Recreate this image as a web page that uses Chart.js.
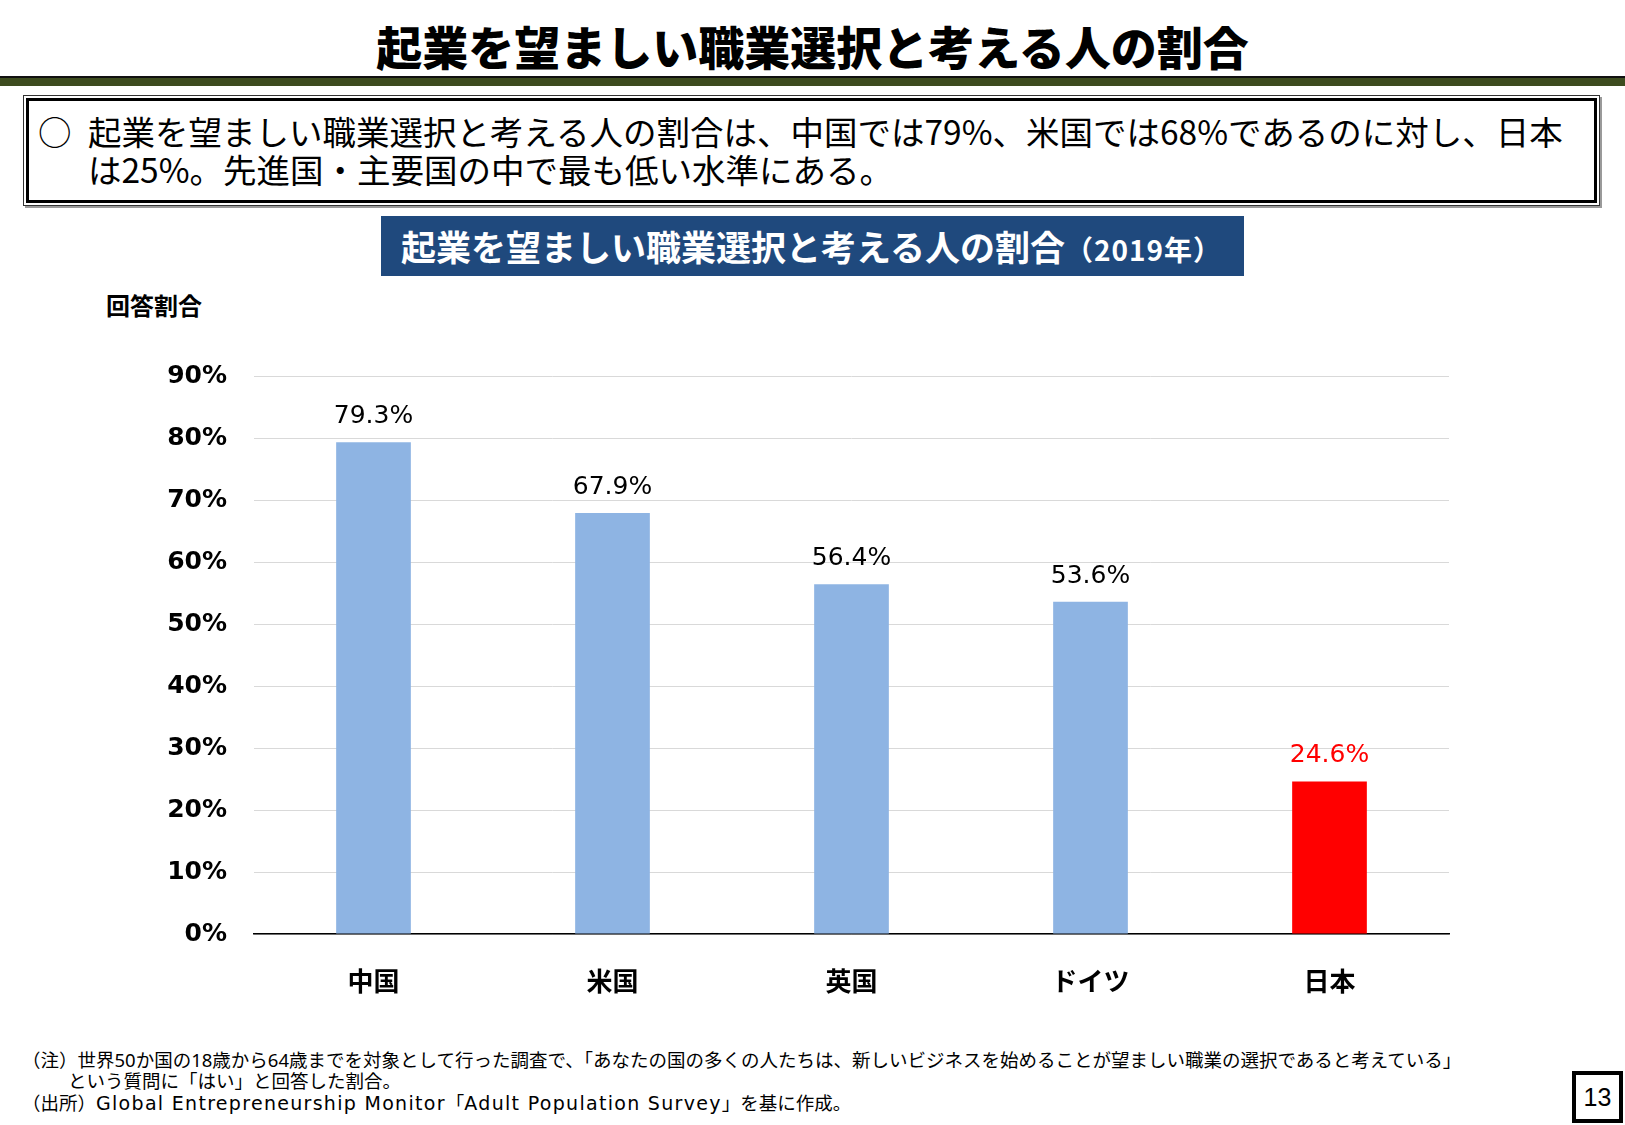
<!DOCTYPE html>
<html lang="ja">
<head>
<meta charset="utf-8">
<script src="https://cdn.jsdelivr.net/npm/chart.js@4.4.1/dist/chart.umd.min.js"></script>
<style>
  html, body { margin: 0; padding: 0; background: #fff; }
  body { width: 1625px; height: 1125px; position: relative; overflow: hidden;
         font-family: "Noto Sans CJK JP", "Noto Sans", sans-serif; color: #000; }
  .abs { position: absolute; white-space: nowrap; }
  #title { left: 0; top: 15px; width: 1625px; height: 60px; line-height: 60px; text-align: center;
           font-size: 46px; font-weight: 900; }
  #band { left: 0; top: 76px; width: 1625px; height: 8px; background: #3d4c1f; border-top: 2px solid #111; }
  #box { left: 23px; top: 95px; width: 1575px; height: 109px; border: 1px solid #333;
         box-shadow: 2px 2px 0 #9a9a9a; }
  #boxin { position: absolute; left: 2px; top: 2px; right: 2px; bottom: 2px; border: 3px solid #000; }
  .bt { font-size: 33.5px; height: 38px; line-height: 38px; }
  #ctitle { left: 381px; top: 216px; width: 863px; height: 60px; background: #1f497d; color: #fff;
            line-height: 60px; font-weight: 700; font-size: 35px; }
  #ctitle span.y { font-size: 28px; letter-spacing: 1px; }
  #ylab { left: 106px; top: 290px; font-size: 24px; font-weight: 700; line-height: 30px; }
  .fn { font-size: 18.5px; line-height: 22px; height: 22px; font-family: "Noto Sans", "Noto Sans CJK JP", sans-serif; }
  .lat { font-family: "DejaVu Sans", "Noto Sans CJK JP", sans-serif; font-size: 19px; letter-spacing: 1.3px; }
  #page { left: 1572px; top: 1071px; width: 43px; height: 44px; border: 4px solid #000;
          font-family: "Liberation Sans", Arial, sans-serif; font-size: 25px; line-height: 44px; text-align: center; }
  #chartWrap { position: absolute; left: 0; top: 330px; width: 1625px; height: 690px; }
</style>
</head>
<body>
<div id="title" class="abs">起業を望ましい職業選択と考える人の割合</div>
<div id="band" class="abs"></div>
<div id="box" class="abs"><div id="boxin"></div></div>
<div class="abs bt" style="left:38px; top:112px;">○</div>
<div class="abs bt" style="left:88px; top:112px;">起業を望ましい職業選択と考える人の割合は、中国では79%、米国では68%であるのに対し、日本</div>
<div class="abs bt" style="left:88px; top:150px;">は25%。先進国・主要国の中で最も低い水準にある。</div>
<div id="ctitle" class="abs"><span style="margin-left:20px;">起業を望ましい職業選択と考える人の割合</span><span class="y">（2019年）</span></div>
<div id="ylab" class="abs">回答割合</div>

<div id="chartWrap"><canvas id="c" width="1625" height="690"></canvas></div>

<div class="abs fn" style="left:22px; top:1049px;">（注）世界50か国の18歳から64歳までを対象として行った調査で、「あなたの国の多くの人たちは、新しいビジネスを始めることが望ましい職業の選択であると考えている」</div>
<div class="abs fn" style="left:68px; top:1070px;">という質問に「はい」と回答した割合。</div>
<div class="abs fn" style="left:22px; top:1092px;">（出所）<span class="lat">Global Entrepreneurship Monitor</span>「<span class="lat">Adult Population Survey</span>」を基に作成。</div>
<div id="page" class="abs">13</div>

<script>
// ---- data ----
const categories = ['中国', '米国', '英国', 'ドイツ', '日本'];
const values = [79.3, 67.9, 56.4, 53.6, 24.6];
const yTickValues = [0, 10, 20, 30, 40, 50, 60, 70, 80, 90];
const highlightCategory = '日本';

const BLUE = '#8EB4E3';
const RED = '#FF0000';

const labelPlugin = {
  id: 'barLabels',
  afterDatasetsDraw(chart) {
    const ctx = chart.ctx;
    const meta = chart.getDatasetMeta(0);
    ctx.save();
    ctx.font = '25px "DejaVu Sans", Verdana, sans-serif';
    ctx.textAlign = 'center';
    ctx.textBaseline = 'alphabetic';
    meta.data.forEach((bar, i) => {
      ctx.fillStyle = categories[i] === highlightCategory ? RED : '#000';
      ctx.fillText(values[i].toFixed(1) + '%', bar.x, bar.y - 19);
    });
    ctx.restore();
  }
};

new Chart(document.getElementById('c'), {
  type: 'bar',
  data: {
    labels: categories,
    datasets: [{
      data: values,
      backgroundColor: categories.map(c => c === highlightCategory ? RED : BLUE),
      borderWidth: 0,
      barPercentage: 0.3125,
      categoryPercentage: 1.0
    }]
  },
  options: {
    responsive: false,
    animation: false,
    devicePixelRatio: 1,
    layout: { padding: { top: 46, right: 176, bottom: 0, left: 0 } },
    plugins: { legend: { display: false }, tooltip: { enabled: false }, title: { display: false } },
    scales: {
      y: {
        min: 0, max: 90,
        afterBuildTicks(scale) { scale.ticks = yTickValues.map(v => ({ value: v })); },
        afterFit(scale) { scale.width = 254; },
        grid: { color: '#d9d9d9', lineWidth: 1, drawTicks: false },
        border: { display: false },
        ticks: {
          padding: 27,
          color: '#000',
          font: { family: '"DejaVu Sans", Verdana, sans-serif', size: 25, weight: 'bold' },
          callback: v => v + '%'
        }
      },
      x: {
        afterFit(scale) { scale.height = 86; },
        grid: { display: false, drawTicks: false },
        border: { display: true, color: '#000', width: 1.5 },
        ticks: {
          padding: 32,
          color: '#000',
          font: { family: '"Noto Sans CJK JP", sans-serif', size: 26, weight: 'bold' }
        }
      }
    }
  },
  plugins: [labelPlugin]
});
</script>
</body>
</html>
